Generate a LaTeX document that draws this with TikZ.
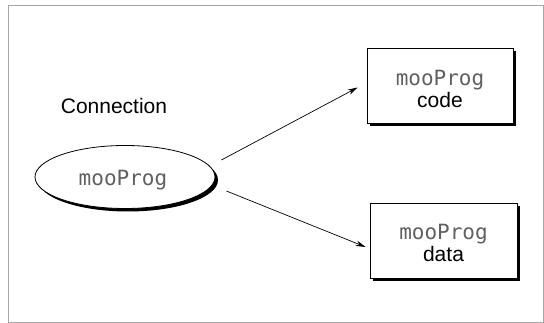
\documentclass[tikz,border=0pt]{standalone}
\usepackage{fontspec}
\setmainfont{Liberation Sans}
\newfontfamily\codefont{DejaVu Sans Mono}
\usetikzlibrary{shapes.geometric,shadows,arrows.meta,calc}
\definecolor{codegray}{HTML}{606060}
\tikzset{
  shad/.style={drop shadow={shadow xshift=3pt,shadow yshift=-3pt,fill=black,opacity=1}},
  boxnode/.style={draw,fill=white,line width=0.8pt,shad,inner sep=0pt,align=center},
  ellnode/.style={ellipse,draw,fill=white,line width=0.8pt,shad,inner sep=0pt,minimum width=180pt,minimum height=63pt},
  lbl/.style={font=\fontsize{21}{24}\selectfont},
  arr/.style={-{Stealth[length=10pt,width=5.5pt]},line width=0.7pt},
}
\newcommand{\mooprogtext}{{\codefont\fontsize{21}{26}\selectfont\color{codegray}mooProg}}
\begin{document}
\begin{tikzpicture}[x=1pt,y=-1pt]
\useasboundingbox (0,0) rectangle (544,323);
\draw[color=gray!70,line width=0.8pt] (8.5,5.5) rectangle (543,322);
\node[lbl] (conn) at (114,106) {Connection};
\node[ellnode] (e) at (125,177) {};
\node[font=\fontsize{21}{26}\selectfont] (et) at (123,180) {\mooprogtext};
\node[boxnode,minimum width=146pt,minimum height=75pt] (code) at (440,86) {};
\node[font=\fontsize{21}{24}\selectfont,align=center] (codet) at (440,89) {\mooprogtext\\[-2pt]code};
\node[boxnode,minimum width=147pt,minimum height=75pt] (data) at (443.5,240.5) {};
\node[font=\fontsize{21}{24}\selectfont,align=center] (datat) at (443.5,243) {\mooprogtext\\[-2pt]data};
\coordinate (s1) at ($(e.east)+(6,-17)$);
\coordinate (t1) at ($(code.west)+(-9,1.5)$);
\coordinate (s2) at ($(e.east)+(11,14)$);
\coordinate (t2) at ($(data.west)+(-4,6.5)$);
\draw[arr] (s1) -- (t1);
\draw[arr] (s2) -- (t2);
\end{tikzpicture}
\end{document}
